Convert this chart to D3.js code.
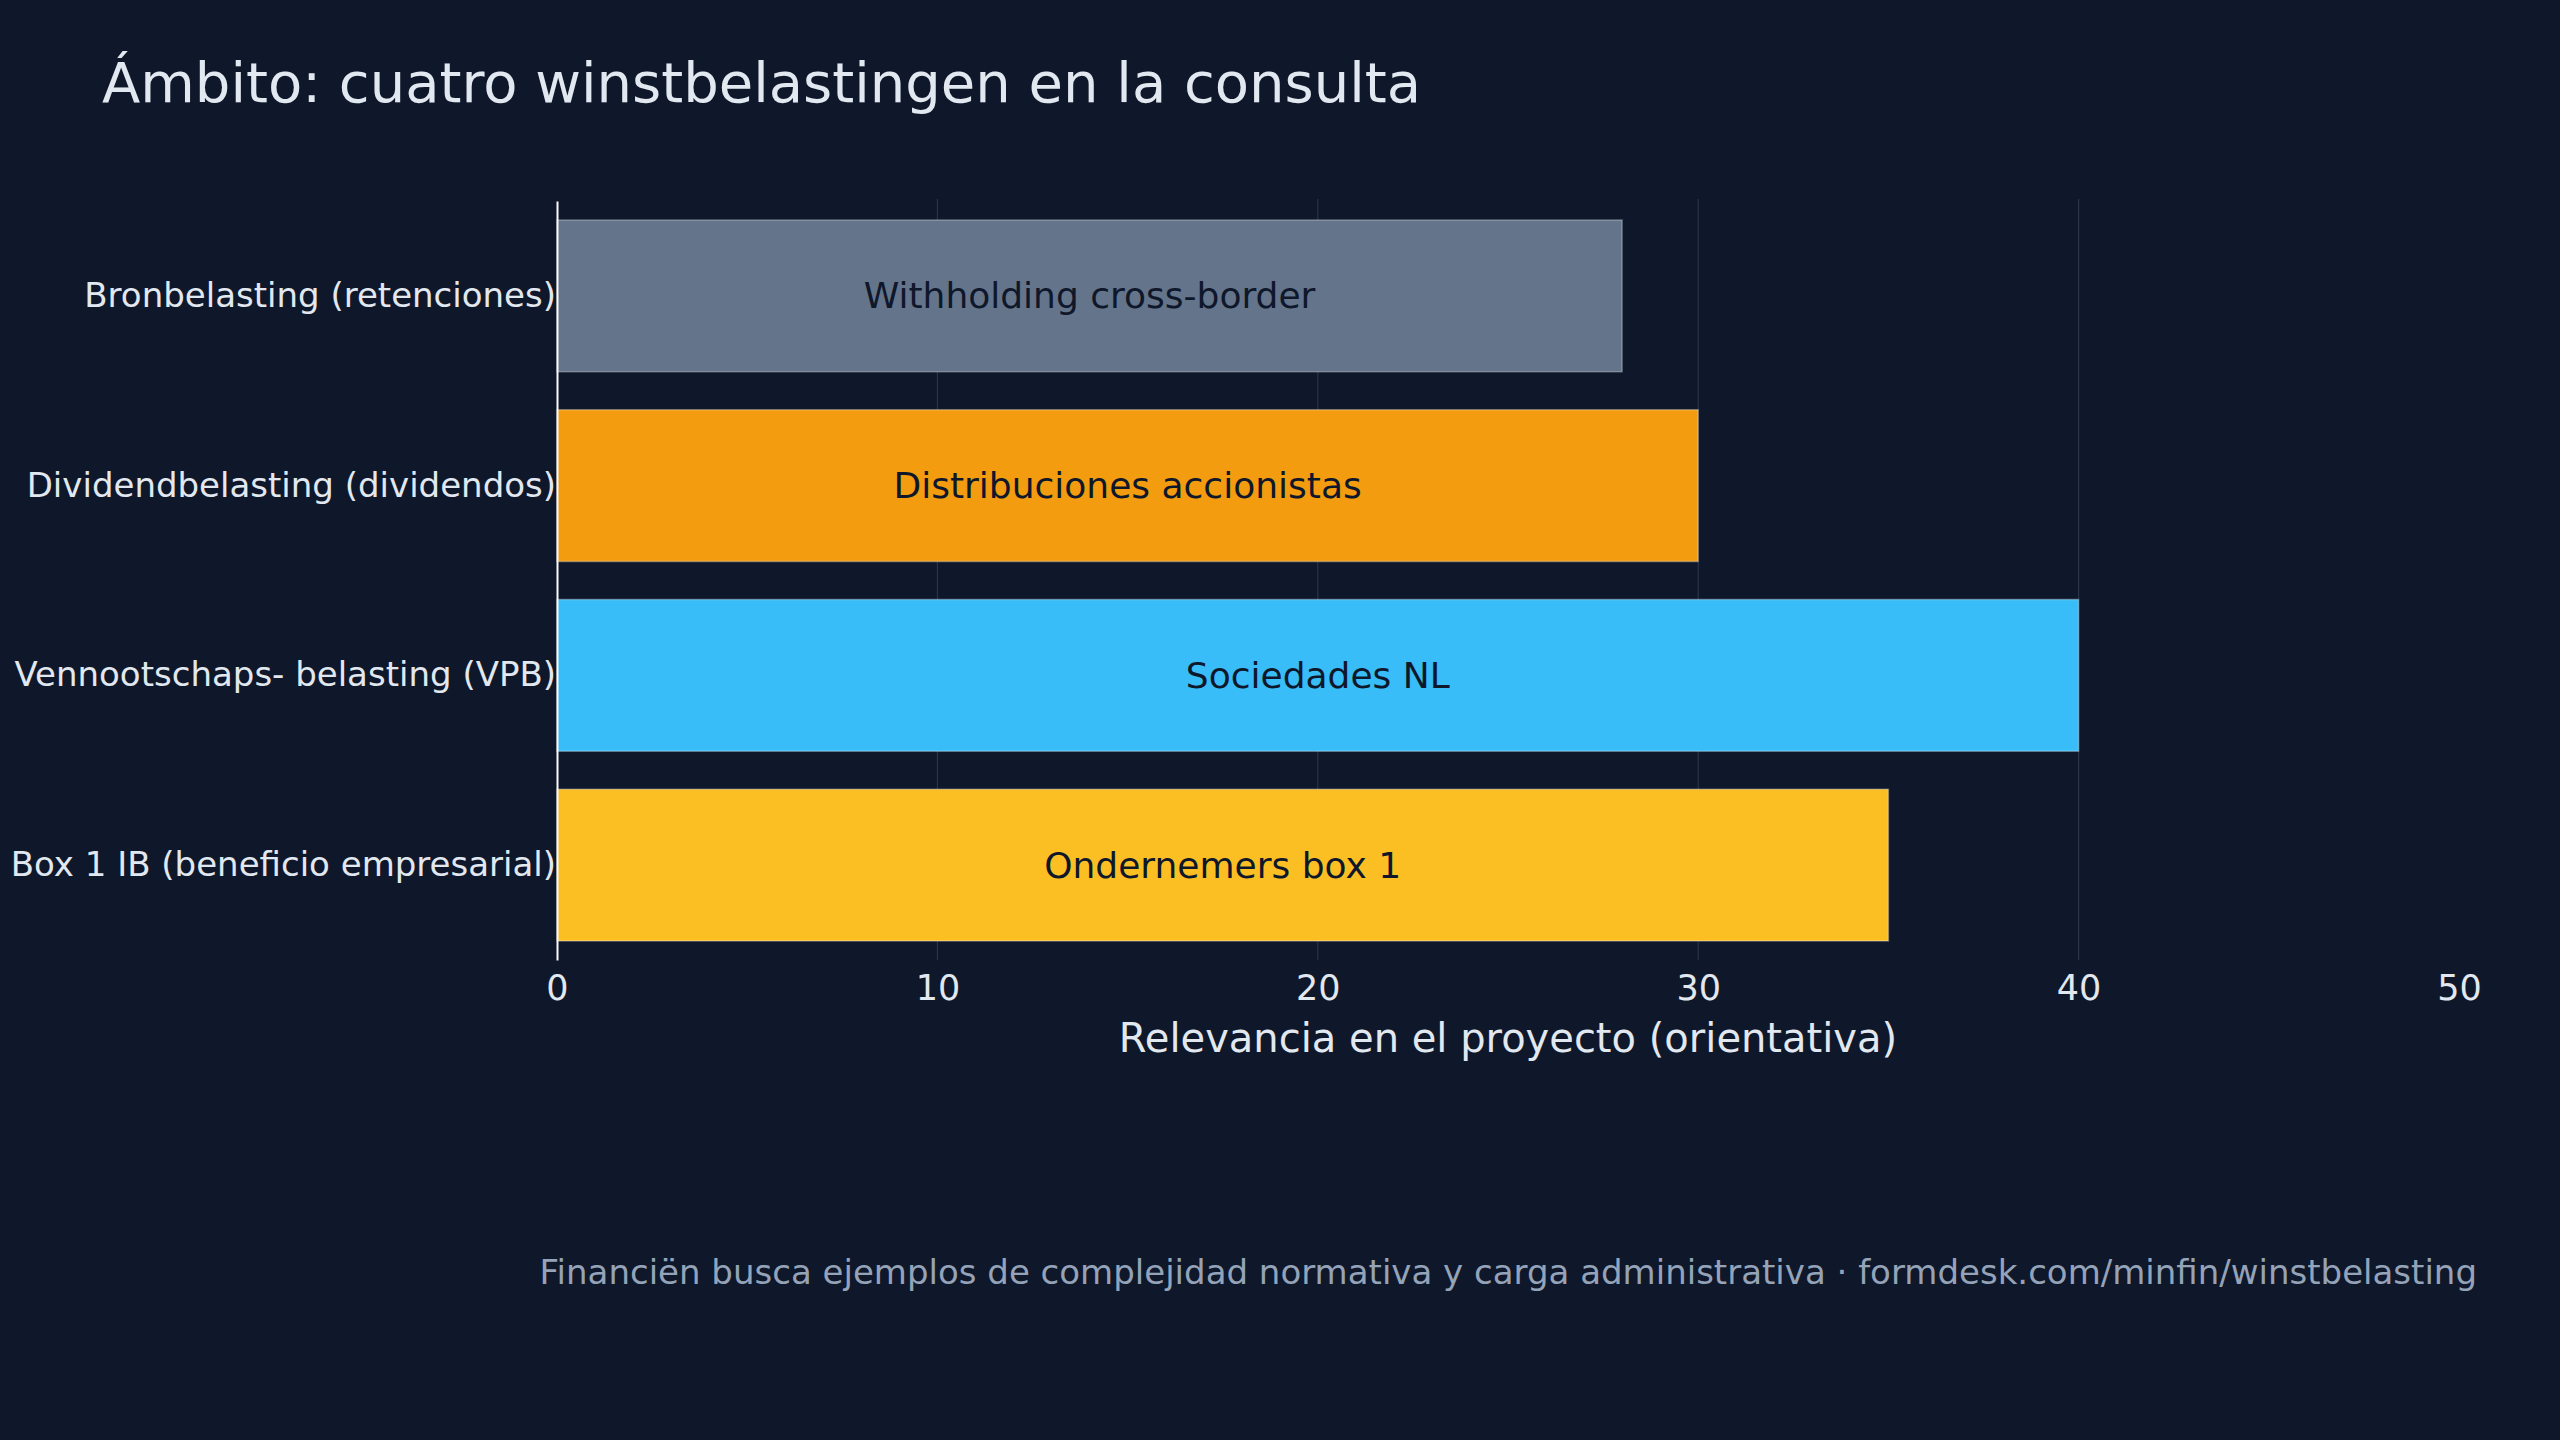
<!DOCTYPE html>
<html>
<head>
<meta charset="utf-8">
<script src="https://cdn.jsdelivr.net/npm/d3@7"></script>
<style>
  html, body { margin: 0; padding: 0; background: #0f172a; }
  #chart { width: 2560px; height: 1440px; }
  text { font-family: "DejaVu Sans", sans-serif; }
</style>
</head>
<body>
<div id="chart"></div>
<script>
const categories = [
    "Bronbelasting (retenciones)",
    "Dividendbelasting (dividendos)",
    "Vennootschaps- belasting (VPB)",
    "Box 1 IB (beneficio empresarial)"
];
const values = [28, 30, 40, 35];
const barLabels = [
    "Withholding cross-border",
    "Distribuciones accionistas",
    "Sociedades NL",
    "Ondernemers box 1"
];
const barColors = ["#64748b", "#f39c0f", "#38bdf8", "#fbbf24"];
const xTicks = [0, 10, 20, 30, 40, 50];

const data = categories.map((c, i) => ({
    category: c,
    value: values[i],
    label: barLabels[i],
    color: barColors[i]
}));

const width = 2560;
const height = 1440;

const margin = { top: 201, right: 101, bottom: 480, left: 557 };
const innerWidth = width - margin.left - margin.right;
const innerHeight = height - margin.top - margin.bottom;

const svg = d3.select("#chart").append("svg")
    .attr("width", width)
    .attr("height", height)
    .attr("viewBox", `0 0 ${width} ${height}`);

svg.append("rect")
    .attr("width", width)
    .attr("height", height)
    .attr("fill", "#0f172a");

const chart = svg.append("g")
    .attr("transform", `translate(${margin.left}, ${margin.top})`);

const xScale = d3.scaleLinear()
    .domain([0, 50])
    .range([0, innerWidth]);

const yScale = d3.scaleBand()
    .domain(categories)
    .range([0, innerHeight])
    .paddingInner(0.2)
    .paddingOuter(0.1);

// grid lines
chart.append("g")
    .selectAll("line")
    .data(xTicks.filter(t => t > 0 && t < 50))
    .enter()
    .append("line")
    .attr("x1", d => xScale(d))
    .attr("x2", d => xScale(d))
    .attr("y1", -2)
    .attr("y2", innerHeight)
    .attr("stroke", "#334155")
    .attr("stroke-opacity", 0.7)
    .attr("stroke-width", 1.2);

// bars
chart.selectAll(".bar")
    .data(data)
    .enter()
    .append("rect")
    .attr("class", "bar")
    .attr("x", 0)
    .attr("y", d => yScale(d.category))
    .attr("width", d => xScale(d.value))
    .attr("height", yScale.bandwidth())
    .attr("fill", d => d.color)
    .attr("stroke", "rgba(255,255,255,0.3)")
    .attr("stroke-width", 1.5);

// labels inside bars
chart.selectAll(".bar-label")
    .data(data)
    .enter()
    .append("text")
    .attr("class", "bar-label")
    .attr("x", d => xScale(d.value / 2))
    .attr("y", d => yScale(d.category) + yScale.bandwidth() / 2)
    .attr("text-anchor", "middle")
    .attr("dominant-baseline", "central")
    .style("fill", "#0f172a")
    .style("font-size", "36px")
    .text(d => d.label);

// x axis
const xAxis = d3.axisBottom(xScale)
    .tickValues(xTicks)
    .tickSize(0)
    .tickPadding(15);

const gx = chart.append("g")
    .attr("transform", `translate(0, ${innerHeight})`)
    .call(xAxis);
gx.select(".domain").remove();
gx.selectAll("text")
    .style("fill", "#e2e8f0")
    .style("font-size", "35px")
    .style("font-family", "DejaVu Sans, sans-serif");

// y axis
const yAxis = d3.axisLeft(yScale)
    .tickSize(0)
    .tickPadding(1);

const gy = chart.append("g").call(yAxis);
gy.select(".domain")
    .attr("stroke", "#f8fafc")
    .attr("stroke-width", 2);
gy.selectAll("text")
    .style("fill", "#e2e8f0")
    .style("font-size", "34px")
    .style("font-family", "DejaVu Sans, sans-serif");

// axis title
svg.append("text")
    .attr("x", margin.left + innerWidth / 2)
    .attr("y", 1038)
    .attr("text-anchor", "middle")
    .attr("dominant-baseline", "central")
    .style("fill", "#e2e8f0")
    .style("font-size", "40px")
    .text("Relevancia en el proyecto (orientativa)");

// Chart Title
svg.append("text")
    .attr("x", 102)
    .attr("y", 82)
    .attr("dominant-baseline", "central")
    .style("fill", "#e2e8f0")
    .style("font-size", "56px")
    .text("Ámbito: cuatro winstbelastingen en la consulta");

// footer
svg.append("text")
    .attr("x", 2477)
    .attr("y", 1272)
    .attr("text-anchor", "end")
    .attr("dominant-baseline", "central")
    .style("fill", "#94a3b8")
    .style("font-size", "34px")
    .text("Financiën busca ejemplos de complejidad normativa y carga administrativa · formdesk.com/minfin/winstbelasting");
</script>
</body>
</html>
